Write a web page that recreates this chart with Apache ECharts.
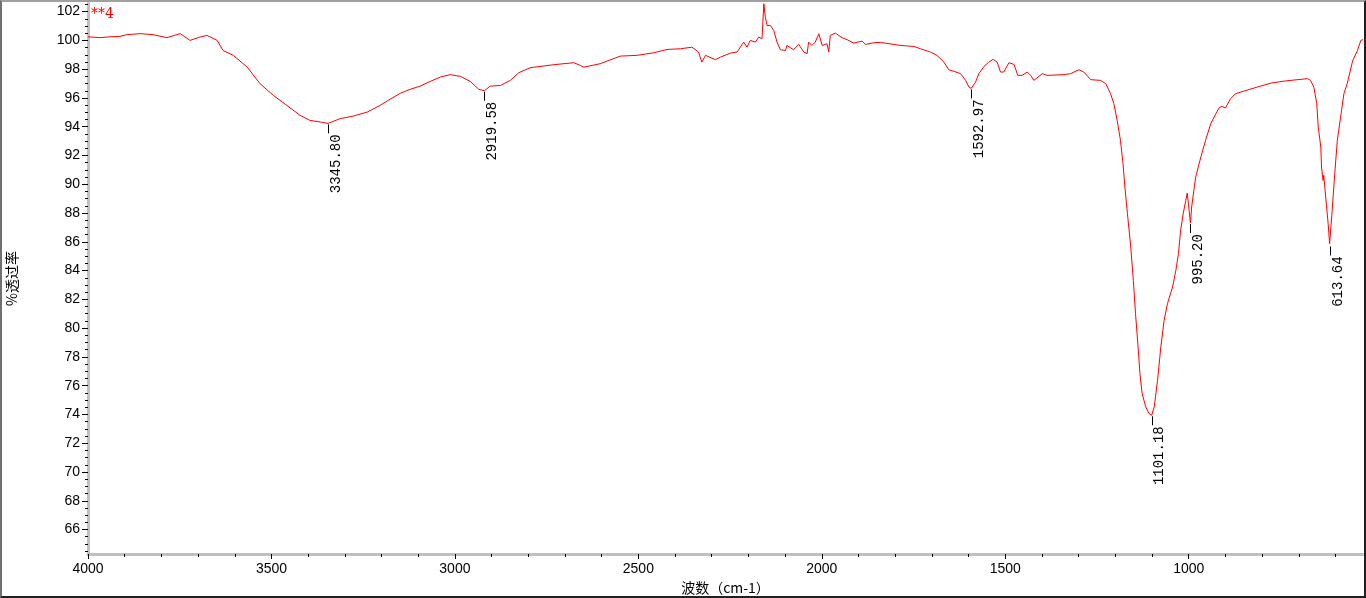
<!DOCTYPE html>
<html>
<head>
<meta charset="utf-8">
<script src="https://cdn.jsdelivr.net/npm/echarts@6/dist/echarts.min.js"></script>
<style>
  html, body { margin: 0; padding: 0; background: #fff; }
  #wrap { position: relative; width: 1366px; height: 598px; }
  #myChart { width: 1366px; height: 598px; }
  #frame {
    position: absolute; left: 0; top: 0; width: 1366px; height: 598px;
    box-sizing: border-box; pointer-events: none;
    border-top: 2px solid #a0a0a0; border-left: 2px solid #707070;
    border-right: 2px solid #202020; border-bottom: 2px solid #202020;
  }
</style>
</head>
<body>
<div id="wrap">
  <div id="myChart"></div>
  <div id="frame"></div>
</div>
<script>
// 波数 (cm-1)
const waveNumbers = [
  4000, 3967, 3940, 3913, 3894, 3858, 3823, 3785, 3749, 3722, 3695, 3676, 3648, 3632, 3604,
  3566, 3531, 3495, 3458, 3422, 3395, 3367, 3345.8, 3313, 3277, 3239, 3204, 3182, 3149, 3122,
  3095, 3067, 3040, 3013, 2985, 2958, 2935, 2919.58, 2904, 2876, 2849, 2826, 2795, 2731, 2676,
  2658, 2649, 2604, 2549, 2504, 2458, 2422, 2385, 2354, 2336, 2327, 2317, 2290, 2276, 2249,
  2231, 2213, 2204, 2195, 2181, 2172, 2163, 2158, 2154, 2149, 2140, 2131, 2122, 2113, 2099,
  2095, 2077, 2063, 2049, 2040, 2036, 2027, 2018, 2008, 1999, 1986, 1981, 1977, 1963, 1958,
  1945, 1931, 1913, 1890, 1881, 1858, 1840, 1785, 1749, 1731, 1704, 1686, 1667, 1654, 1640,
  1622, 1608, 1599, 1592.97, 1581, 1572, 1558, 1545, 1533, 1522, 1513, 1504, 1490, 1476, 1466,
  1454, 1440, 1431, 1422, 1399, 1386, 1340, 1322, 1299, 1286, 1267, 1240, 1226, 1213, 1204,
  1195, 1186, 1179, 1174, 1167, 1158, 1151, 1145, 1138, 1133, 1127, 1117, 1108, 1101.18, 1094,
  1085, 1076, 1067, 1058, 1044, 1035, 1028, 1022, 1015, 1008, 1004, 999, 995.2, 992, 986,
  981, 967, 954, 940, 926, 917, 909, 900, 886, 872, 849, 813, 776, 740, 704,
  676, 668, 659, 651, 647, 640, 638, 634, 632, 629, 625, 620, 616, 613.64, 609,
  602, 595, 586, 577, 568, 553, 540, 531, 525
];
// %透过率
const transmittance = [
  100.25, 100.19, 100.25, 100.28, 100.4, 100.47, 100.4, 100.19, 100.47, 100.0, 100.23, 100.35, 100.0, 99.3, 98.96,
  98.14, 96.99, 96.18, 95.48, 94.79, 94.44, 94.33, 94.23, 94.56, 94.74, 95.02, 95.48, 95.83, 96.32, 96.6,
  96.82, 97.15, 97.45, 97.62, 97.5, 97.15, 96.6, 96.5, 96.82, 96.87, 97.22, 97.75, 98.1, 98.31, 98.45,
  98.26, 98.14, 98.38, 98.91, 98.96, 99.14, 99.37, 99.42, 99.53, 99.19, 98.49, 98.96, 98.66, 98.84, 99.12,
  99.19, 99.88, 99.53, 100.0, 99.88, 100.23, 100.12, 102.55, 101.62, 101.04, 101.04, 100.69, 99.88, 99.35, 99.3,
  99.65, 99.35, 99.72, 99.19, 99.08, 99.88, 99.65, 99.88, 100.46, 99.65, 99.77, 99.19, 100.35, 100.51, 100.58,
  100.19, 100.05, 99.81, 99.95, 99.72, 99.84, 99.86, 99.65, 99.58, 99.42, 99.19, 98.96, 98.49, 97.96, 97.85,
  97.69, 97.22, 96.76, 96.66, 97.1, 97.69, 98.19, 98.49, 98.68, 98.49, 97.8, 97.8, 98.45, 98.33, 97.57,
  97.57, 97.8, 97.57, 97.22, 97.69, 97.57, 97.62, 97.69, 97.96, 97.8, 97.27, 97.22, 96.99, 96.3, 95.6,
  94.44, 93.05, 91.43, 89.8, 87.96, 85.64, 83.32, 81.01, 78.69, 76.84, 75.45, 74.52, 74.06, 73.94, 74.52,
  76.37, 78.69, 80.54, 81.7, 82.86, 84.02, 85.18, 86.8, 87.96, 88.88, 89.39, 88.19, 87.3, 88.42, 89.58,
  90.5, 91.89, 93.05, 94.21, 94.91, 95.32, 95.41, 95.3, 95.95, 96.3, 96.48, 96.76, 97.03, 97.17, 97.27,
  97.34, 97.22, 96.76, 95.6, 93.98, 92.59, 91.2, 90.27, 90.62, 90.5, 88.65, 87.26, 85.87, 85.75, 88.19,
  90.74, 93.05, 94.67, 96.3, 97.0, 98.6, 99.3, 100.0, 100.05
];

// 标峰
const peakWave = [3345.80, 2919.58, 1592.97, 1101.18, 995.20, 613.64];
const peakValue = [94.23, 96.50, 96.66, 73.94, 87.30, 85.75];
const peakText = ["3345.80", "2919.58", "1592.97", "1101.18", "995.20", "613.64"];

// 刻度
const xMajorTicks = [1000, 1500, 2000, 2500, 3000, 3500, 4000];
const yMajorTicks = [66, 68, 70, 72, 74, 76, 78, 80, 82, 84, 86, 88, 90, 92, 94, 96, 98, 100, 102];

const xMinorTicks = [];
for (let w = 600; w <= 3900; w += 100) if (w % 500 !== 0) xMinorTicks.push(w);
const yMinorTicks = [];
for (let v = 64.5; v <= 102.5; v += 0.5) if (v % 2 !== 0) yMinorTicks.push(v);

const spectrum = waveNumbers.map((w, i) => [w, transmittance[i]]);
const peaks = peakWave.map((w, i) => [w, peakValue[i], peakText[i]]);

const X_MIN = 525, X_MAX = 4000, Y_MIN = 64.3, Y_MAX = 102.6;
const labelFont = "Liberation Sans, Arial, sans-serif";
const cjkFont = "Noto Sans CJK SC, sans-serif";

let myChart = echarts.init(document.getElementById("myChart"));
myChart.setOption({
  animation: false,
  backgroundColor: "#fff",
  title: {
    text: "**4",
    left: 91,
    top: 7,
    padding: 0,
    textStyle: { color: "#ff0000", fontSize: 14, fontWeight: "normal", fontFamily: "DejaVu Serif, serif" }
  },
  grid: { left: 88, right: 3, top: 3, bottom: 44, containLabel: false, outerBoundsMode: "none" },
  xAxis: [
    {
      type: "value",
      min: X_MIN,
      max: X_MAX,
      inverse: true,
      position: "bottom",
      name: "波数（cm-1）",
      nameLocation: "middle",
      nameGap: 24,
      nameTextStyle: { color: "#000", fontSize: 14, fontFamily: cjkFont },
      axisLine: { show: true, onZero: false, lineStyle: { color: "#c0c0c0", width: 3 } },
      axisTick: { show: true, length: 5, customValues: xMajorTicks, lineStyle: { color: "#000", width: 1 } },
      axisLabel: {
        customValues: xMajorTicks, margin: 8, color: "#000", fontSize: 14, fontFamily: labelFont,
        formatter: (v) => String(v)
      },
      splitLine: { show: false }
    },
    {
      type: "value",
      min: X_MIN,
      max: X_MAX,
      inverse: true,
      position: "bottom",
      offset: 0,
      axisLine: { show: false, onZero: false },
      axisTick: { show: true, length: 3, customValues: xMinorTicks, lineStyle: { color: "#000", width: 1 } },
      axisLabel: { show: false },
      splitLine: { show: false }
    }
  ],
  yAxis: [
    {
      type: "value",
      min: Y_MIN,
      max: Y_MAX,
      position: "left",
      name: "%透过率",
      nameLocation: "middle",
      nameGap: 69,
      nameTextStyle: { color: "#000", fontSize: 14, fontFamily: cjkFont },
      axisLine: { show: true, onZero: false, lineStyle: { color: "#c0c0c0", width: 3 } },
      axisTick: { show: true, length: 6, customValues: yMajorTicks, lineStyle: { color: "#000", width: 1 } },
      axisLabel: {
        customValues: yMajorTicks, margin: 8, color: "#000", fontSize: 14, fontFamily: labelFont,
        formatter: (v) => String(v)
      },
      splitLine: { show: false }
    },
    {
      type: "value",
      min: Y_MIN,
      max: Y_MAX,
      position: "left",
      offset: 0,
      axisLine: { show: false, onZero: false },
      axisTick: { show: true, length: 3, customValues: yMinorTicks, lineStyle: { color: "#000", width: 1 } },
      axisLabel: { show: false },
      splitLine: { show: false }
    }
  ],
  series: [
    {
      name: "**4",
      type: "line",
      xAxisIndex: 0,
      yAxisIndex: 0,
      data: spectrum,
      showSymbol: false,
      symbol: "none",
      clip: true,
      lineStyle: { color: "#ff0000", width: 1 },
      z: 3
    },
    {
      // 峰位标注：短竖线 + 竖排数值
      type: "custom",
      xAxisIndex: 0,
      yAxisIndex: 0,
      data: peaks,
      z: 4,
      renderItem: function (params, api) {
        const p = api.coord([api.value(0), api.value(1)]);
        const txt = peaks[params.dataIndex][2];
        return {
          type: "group",
          children: [
            {
              type: "line",
              shape: { x1: Math.round(p[0]) + 0.5, y1: p[1] + 1, x2: Math.round(p[0]) + 0.5, y2: p[1] + 10 },
              style: { stroke: "#000", lineWidth: 1 }
            },
            {
              type: "text",
              x: p[0] + 1,
              y: p[1] + 11,
              rotation: Math.PI / 2,
              style: {
                text: txt,
                fill: "#000",
                font: "14px Liberation Mono, DejaVu Sans Mono, monospace",
                align: "right",
                verticalAlign: "top"
              }
            }
          ]
        };
      }
    }
  ]
});
</script>
</body>
</html>
